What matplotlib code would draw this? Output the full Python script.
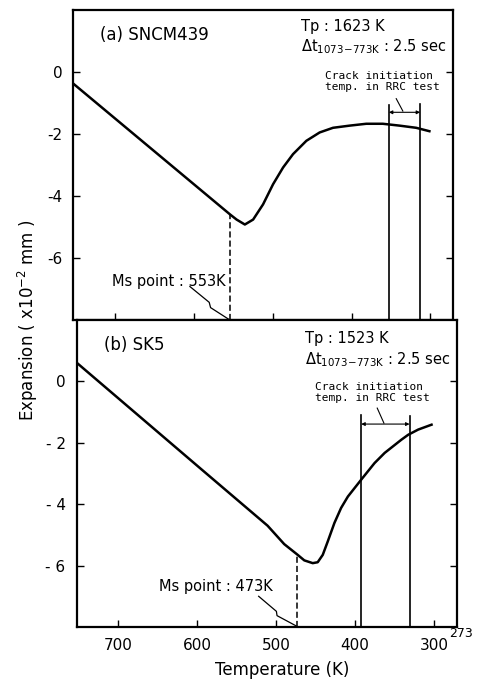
import matplotlib
matplotlib.use("Agg")
import matplotlib.pyplot as plt

plt.rcParams['font.family'] = ['DejaVu Sans']

# ---- data ----
temp_a = [752.8, 554.4, 545.9, 535.4, 524.9, 512.3, 499.6, 486.9, 474.3, 457.4,
          440.5, 423.6, 402.5, 381.4, 360.4, 339.2, 318.1, 301.3]
exp_a = [-0.38, -4.59, -4.76, -4.92, -4.76, -4.27, -3.62, -3.08, -2.65, -2.22,
         -1.95, -1.80, -1.73, -1.67, -1.67, -1.73, -1.80, -1.91]

temp_b = [752.6, 595.9, 510.9, 489.8, 472.7, 464.3, 453.6, 447.3, 440.9, 434.5,
          426.1, 417.6, 409.0, 392.1, 375.2, 362.4, 341.2, 332.6, 319.9, 302.9]
exp_b = [0.60, -2.84, -4.70, -5.30, -5.65, -5.83, -5.92, -5.89, -5.65, -5.21,
         -4.61, -4.12, -3.75, -3.20, -2.66, -2.33, -1.90, -1.74, -1.57, -1.41]

ms_a = 553
ms_b = 473
ms_exp_a = -4.59
ms_exp_b = -5.65
crack_a = [352.8, 313.0]
crack_b = [392.1, 330.8]

xticks = [700, 600, 500, 400, 300]
xticklabels = ['700', '600', '500', '400', '300']
yticks = [0, -2, -4, -6]
yticklabels_a = ['0', '-2', '-4', '-6']
yticklabels_b = ['0', '- 2', '- 4', '- 6']

titles = ['(a) SNCM439', '(b) SK5']
tp_labels = ['Tp : 1623 K', 'Tp : 1523 K']
dt_label = r'$\mathit{\Delta}$t$_{\mathrm{1073\!-\!773K}}$ : 2.5 sec'
ms_labels = ['Ms point : 553K', 'Ms point : 473K']
crack_text = 'Crack initiation\ntemp. in RRC test'

fig = plt.figure(figsize=(4.79, 6.82), dpi=100)
W, H = 479, 682
ax_a = fig.add_axes([73.3 / W, 1 - 320 / H, 380 / W, 310 / H])
ax_b = fig.add_axes([76.7 / W, 1 - 627 / H, 380 / W, 307 / H])

def style(ax, ylabels):
    ax.set_xlim(753, 271)
    ax.set_ylim(-8, 2)
    ax.set_xticks(xticks)
    ax.set_yticks(yticks)
    ax.set_yticklabels(ylabels)
    for s in ax.spines.values():
        s.set_linewidth(1.6)
    ax.tick_params(direction='in', length=5, width=1.0, left=True, right=True,
                   bottom=True, top=False, labelsize=11, pad=8)

style(ax_a, yticklabels_a)
ax_a.set_xticklabels([])
style(ax_b, yticklabels_b)
ax_b.set_xticklabels(xticklabels)

lw = 1.8
ax_a.plot(temp_a, exp_a, color='black', lw=lw, solid_joinstyle='round')
ax_b.plot(temp_b, exp_b, color='black', lw=lw, solid_joinstyle='round')

# Ms dashed lines
ax_a.plot([ms_a + 1.4, ms_a + 1.4], [-8, ms_exp_a], color='black', lw=1.1, dashes=(4, 2))
ax_b.plot([ms_b, ms_b], [-8, ms_exp_b], color='black', lw=1.1, dashes=(4, 2))

# zigzag leaders
ax_a.plot([605.1, 580.6, 578.9, 554.4], [-6.92, -7.43, -7.60, -8.0], color='black', lw=0.9)
ax_b.plot([522.2, 499.7, 498.9, 473.5], [-7.0, -7.49, -7.63, -7.98], color='black', lw=0.9)

# Ms labels
ax_a.text(704, -6.76, ms_labels[0], fontsize=10.5, va='center', ha='left')
ax_b.text(649, -6.68, ms_labels[1], fontsize=10.5, va='center', ha='left')

# crack initiation lines
def crack(ax, xs, tops, ya, leader, tx, ty):
    for x, t in zip(xs, tops):
        ax.plot([x, x], [-8, t], color='black', lw=1.2)
    ax.annotate('', xy=(xs[0], ya), xytext=(xs[1], ya),
                arrowprops=dict(arrowstyle='<|-|>', lw=0.8, color='black',
                                mutation_scale=5, shrinkA=0, shrinkB=0))
    ax.plot(leader[0], leader[1], color='black', lw=0.8)
    ax.text(tx, ty, crack_text, family='DejaVu Sans Mono', fontsize=8,
            ha='left', va='center', linespacing=1.1)

crack(ax_a, crack_a, [-1.08, -1.03], -1.30, ([343.4, 335.0], [-0.86, -1.26]), 434.2, -0.31)
crack(ax_b, crack_b, [-1.08, -1.14], -1.39, ([371.8, 363.3], [-0.87, -1.36]), 450.3, -0.36)

# panel titles and conditions
ax_a.text(719, 1.19, titles[0], fontsize=12, va='center', ha='left')
ax_b.text(719, 1.19, titles[1], fontsize=12, va='center', ha='left')
ax_a.text(463.7, 1.46, tp_labels[0], fontsize=10.5, va='center', ha='left')
ax_b.text(462.9, 1.41, tp_labels[1], fontsize=10.5, va='center', ha='left')
ax_a.text(463.7, 0.81, dt_label, fontsize=10.5, va='center', ha='left')
ax_b.text(462.9, 0.71, dt_label, fontsize=10.5, va='center', ha='left')

# 273 superscript at axis end
ax_b.text(281, -8.2, '273', fontsize=9, ha='left', va='center', clip_on=False)

fig.text(282 / W, 1 - 670 / H, 'Temperature (K)', fontsize=12, ha='center', va='center')
fig.text(28 / W, 1 - 320 / H, r'Expansion ( x10$^{-2}$ mm )', fontsize=12,
         rotation=90, ha='center', va='center')

fig.savefig('out.png', dpi=100)
